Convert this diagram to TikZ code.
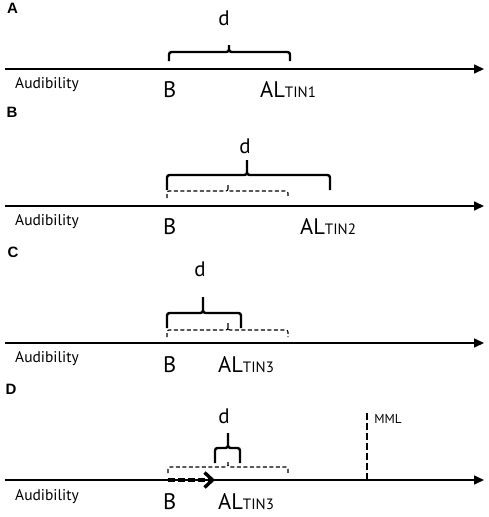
\documentclass[tikz,border=0pt]{standalone}
\usepackage{fontspec}
\setmainfont{PT Sans}
\newfontfamily\panelfont{Liberation Sans}
\usetikzlibrary{arrows.meta,calc}

% curly brace: [style] x-left x-right x-tip y-ends y-bar y-tip
\newcommand{\curly}[7][]{%
  \draw[#1] (#2,#5) -- (#2,#6) -- (#4,#6) -- (#4,#7)
    (#4,#7) -- (#4,#6) -- (#3,#6) -- (#3,#5);}
\newcommand{\altin}[1]{AL{\fontsize{15}{15}\selectfont TIN#1}}

\begin{document}
\begin{tikzpicture}[x=1pt,y=-1pt,
  axis/.style={line width=1.6pt,-{Triangle[length=10pt,width=9pt]}},
  brace/.style={line width=2.4pt,rounded corners=2.5pt},
  dbrace/.style={line width=1.1pt,dash pattern=on 4pt off 2.5pt,rounded corners=2pt},
  panel/.style={font=\panelfont\bfseries\fontsize{15}{15}\selectfont,inner sep=0pt},
  lbl/.style={font=\fontsize{15.5}{16}\selectfont,inner sep=0pt,anchor=base west},
  big/.style={font=\fontsize{22.5}{23}\selectfont,inner sep=0pt,anchor=base west},
  dlbl/.style={font=\fontsize{21}{21}\selectfont,inner sep=0pt,anchor=base},
  small/.style={font=\fontsize{13}{13}\selectfont,inner sep=0pt}]
  \useasboundingbox (0,0) rectangle (489,517);

  % Panel A
  \begin{scope}[shift={(0,69)}]
    \node[panel] (pA) at (12.5,-60.5) {A};
    \coordinate (a0) at (5,0);
    \coordinate (a1) at (484,0);
    \draw[axis] (a0) -- (a1);
    \curly[brace]{169}{290}{229}{-8}{-17}{-24}
    \node[dlbl] (dA) at (224,-44) {d};
    \node[lbl] (audA) at (15,19) {Audibility};
    \node[big] (bA) at (163,28) {B};
    \node[big] (alA) at (260,28) {\altin{1}};
  \end{scope}

  % Panel B
  \begin{scope}[shift={(0,206)}]
    \node[panel] (pB) at (12,-94) {B};
    \coordinate (b0) at (5,0);
    \coordinate (b1) at (484,0);
    \draw[axis] (b0) -- (b1);
    \curly[brace]{167}{330}{247}{-16}{-31}{-46}
    \curly[dbrace]{167}{288}{228}{-8}{-15}{-21}
    \node[dlbl] (dB) at (245,-53) {d};
    \node[lbl] (audB) at (15,19) {Audibility};
    \node[big] (bB) at (163,28) {B};
    \node[big] (alB) at (300,28) {\altin{2}};
  \end{scope}

  % Panel C
  \begin{scope}[shift={(0,343)}]
    \node[panel] (pC) at (13,-91) {C};
    \coordinate (c0) at (5,0);
    \coordinate (c1) at (484,0);
    \draw[axis] (c0) -- (c1);
    \curly[brace]{167}{241}{203}{-15}{-30}{-46}
    \curly[dbrace]{167}{288}{228}{-6}{-13}{-20}
    \node[dlbl] (dC) at (200,-67) {d};
    \node[lbl] (audC) at (15,19) {Audibility};
    \node[big] (bC) at (163,29) {B};
    \node[big] (alC) at (218,29) {\altin{3}};
  \end{scope}

  % Panel D
  \begin{scope}[shift={(0,480)}]
    \node[panel] (pD) at (11,-91) {D};
    \coordinate (d0) at (5,0);
    \coordinate (d1) at (484,0);
    \draw[axis] (d0) -- (d1);
    \curly[brace]{215}{240}{228}{-17}{-32}{-47}
    \curly[dbrace]{168}{288}{228}{-7}{-13}{-18}
    \coordinate (s0) at (168,0);
    \coordinate (s1) at (215,0);
    \draw[line width=3.4pt,dash pattern=on 7pt off 3pt,
      -{Straight Barb[length=8pt,width=15pt,line width=3.4pt]}] (s0) -- (s1);
    \coordinate (m0) at (367,0);
    \coordinate (m1) at (367,-68);
    \draw[line width=1.2pt,dash pattern=on 7pt off 3pt] (m0) -- (m1);
    \node[small] (mml) at (388,-61) {MML};
    \node[dlbl] (dD) at (224,-57) {d};
    \node[lbl] (audD) at (15,20) {Audibility};
    \node[big] (bD) at (163,29) {B};
    \node[big] (alD) at (218,29) {\altin{3}};
  \end{scope}
\end{tikzpicture}
\end{document}
